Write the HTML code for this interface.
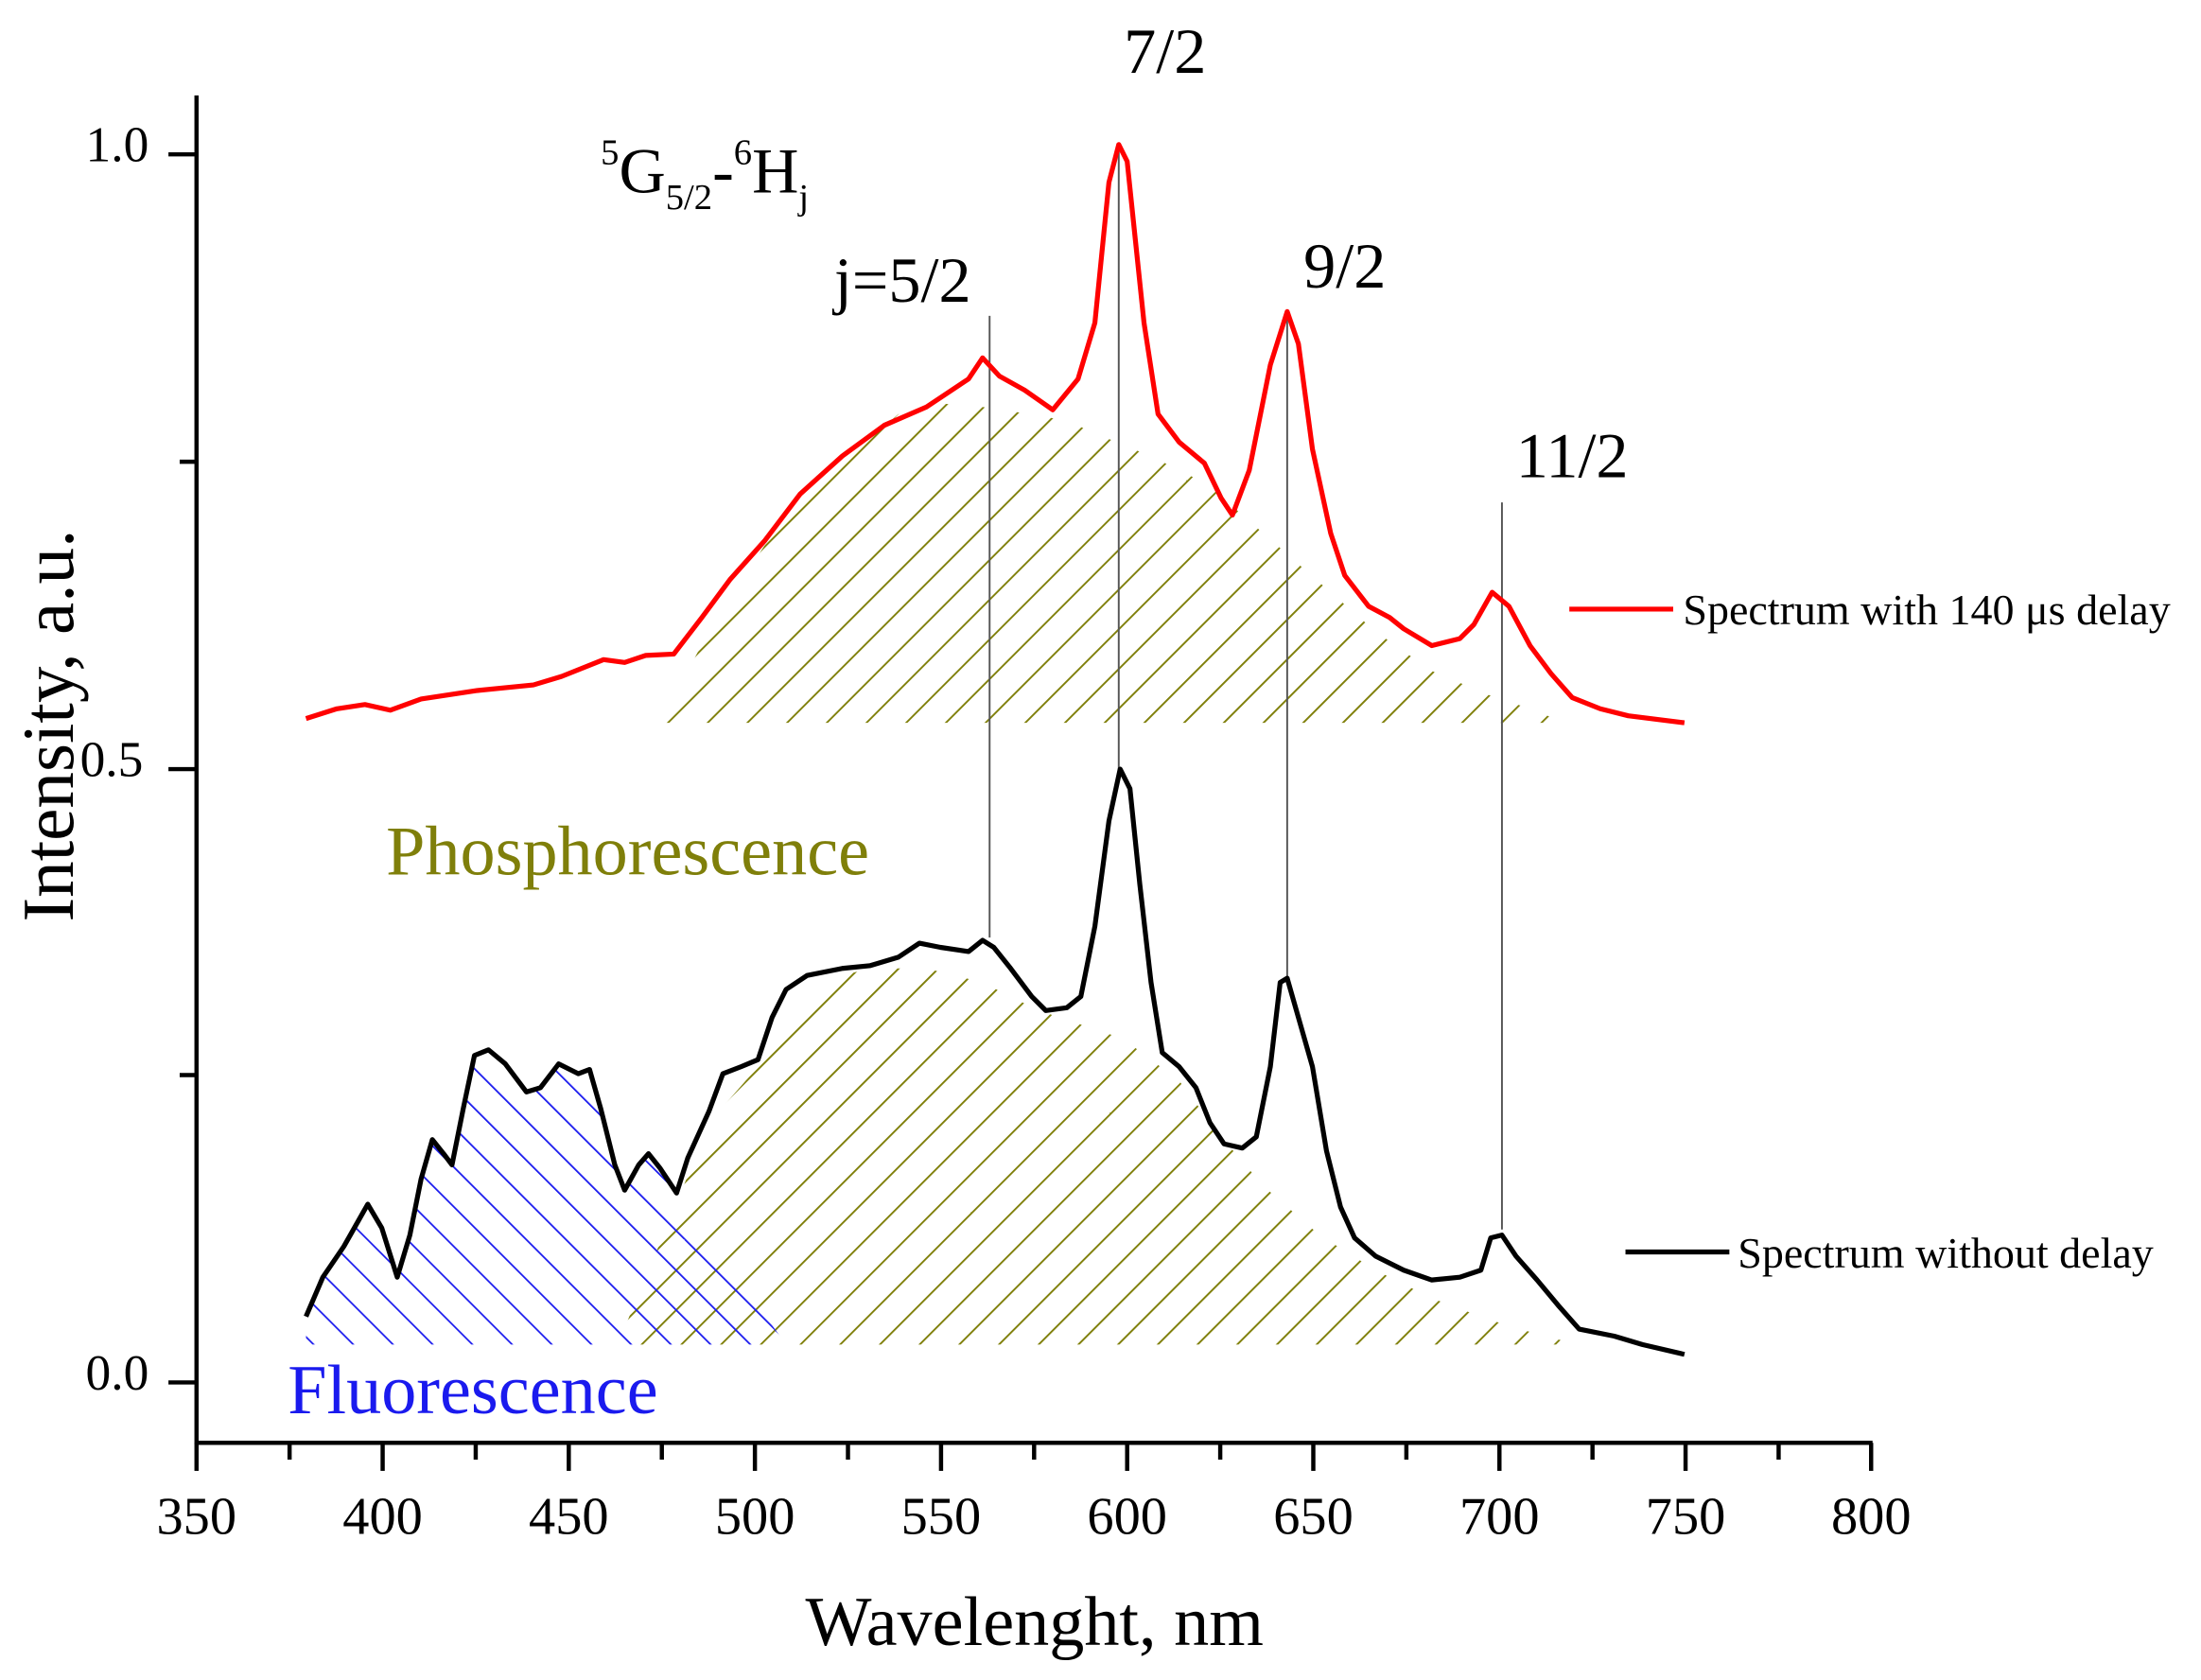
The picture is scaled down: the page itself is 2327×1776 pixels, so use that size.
<!DOCTYPE html>
<html><head><meta charset="utf-8"><style>
html,body{margin:0;padding:0;background:#fff}
svg{display:block}
text{font-family:"Liberation Serif",serif}
</style></head><body>
<svg width="2327" height="1776" viewBox="0 0 1568 1197" preserveAspectRatio="none" xmlns="http://www.w3.org/2000/svg">
<defs>
<pattern id="ol" patternUnits="userSpaceOnUse" width="20" height="20" patternTransform="rotate(45)">
<line x1="0" y1="0" x2="0" y2="20" stroke="#7f7f0a" stroke-width="2.6"/>
</pattern>
<pattern id="bl" patternUnits="userSpaceOnUse" width="20" height="20" patternTransform="rotate(-45)">
<line x1="0" y1="0" x2="0" y2="20" stroke="#1a1aee" stroke-width="2.4"/>
</pattern>
</defs>
<polygon fill="url(#ol)" points="470,515 505,450 560,365 640,295 665,287 700,290 740,296 760,300 800,317 820,325 860,345 900,380 940,415 980,450 1020,478 1060,495 1090,505 1115,515"/>
<polygon fill="url(#ol)" points="440,958 485,850 505,800 540,760 580,700 620,690 660,690 700,700 740,720 800,740 840,770 870,810 900,845 940,880 980,905 1020,925 1060,940 1100,952 1125,958"/>
<polygon fill="url(#bl)" points="218,958 218,938 230,910 245,888 262,858 272,875 283,910 292,880 300,840 308,812 316,822 322,830 330,790 338,752 348,748 360,758 375,778 385,775 398,758 412,765 420,762 428,790 438,830 445,848 455,830 462,822 470,832 482,850 560,958"/>
<g stroke="#555" stroke-width="1.3">
<line x1="705" y1="225" x2="705" y2="668"/>
<line x1="797" y1="108" x2="797" y2="548"/>
<line x1="917" y1="225" x2="917" y2="697"/>
<line x1="1070" y1="358" x2="1070" y2="876"/>
</g>
<polyline fill="none" stroke="#f00" stroke-width="3.5" stroke-linejoin="round" points="218,512 240,505 260,502 278,506 300,498 340,492 380,488 400,482 430,470 445,472 460,467 480,466 500,440 520,413 545,385 570,352 600,325 630,303 660,290 690,270 700,255 712,268 730,278 750,292 768,270 780,230 790,130 797,103 803,115 815,230 825,295 840,315 858,330 870,355 878,367 890,335 905,260 917,222 925,245 935,320 948,380 958,410 975,432 990,440 1000,448 1020,460 1040,455 1050,445 1063,422 1075,432 1090,460 1105,480 1120,497 1140,505 1160,510 1200,515"/>
<polyline fill="none" stroke="#000" stroke-width="3.5" stroke-linejoin="round" points="218,938 230,910 245,888 262,858 272,875 283,910 292,880 300,840 308,812 316,822 322,830 330,790 338,752 348,748 360,758 375,778 385,775 398,758 412,765 420,762 428,790 438,830 445,848 455,830 462,822 470,832 482,850 490,825 505,792 515,765 528,760 540,755 550,725 560,705 575,695 600,690 620,688 640,682 655,672 670,675 690,678 700,670 708,675 720,690 735,710 745,720 760,718 770,710 780,660 790,585 798,548 805,562 812,630 820,700 828,750 840,760 852,775 862,800 872,815 885,818 895,810 905,760 912,700 917,697 925,725 935,760 945,820 955,860 965,882 980,895 1000,905 1020,912 1040,910 1055,905 1062,882 1070,880 1080,895 1095,912 1110,930 1125,947 1150,952 1170,958 1200,965"/>
<g stroke="#000" stroke-width="3" fill="none">
<line x1="140" y1="68" x2="140" y2="1029"/>
<line x1="139" y1="1028" x2="1334" y2="1028"/>
<line x1="1333" y1="1028" x2="1333" y2="1048"/>
<line x1="140" y1="1028" x2="140" y2="1048"/>
<line x1="272.6" y1="1028" x2="272.6" y2="1048"/><line x1="405.2" y1="1028" x2="405.2" y2="1048"/><line x1="537.8" y1="1028" x2="537.8" y2="1048"/><line x1="670.4" y1="1028" x2="670.4" y2="1048"/><line x1="803" y1="1028" x2="803" y2="1048"/><line x1="935.6" y1="1028" x2="935.6" y2="1048"/><line x1="1068.2" y1="1028" x2="1068.2" y2="1048"/><line x1="1200.8" y1="1028" x2="1200.8" y2="1048"/>
<line x1="206.3" y1="1028" x2="206.3" y2="1040"/><line x1="338.9" y1="1028" x2="338.9" y2="1040"/><line x1="471.5" y1="1028" x2="471.5" y2="1040"/><line x1="604.1" y1="1028" x2="604.1" y2="1040"/><line x1="736.7" y1="1028" x2="736.7" y2="1040"/><line x1="869.3" y1="1028" x2="869.3" y2="1040"/><line x1="1001.9" y1="1028" x2="1001.9" y2="1040"/><line x1="1134.5" y1="1028" x2="1134.5" y2="1040"/><line x1="1267.1" y1="1028" x2="1267.1" y2="1040"/>
<line x1="120" y1="110" x2="140" y2="110"/><line x1="120" y1="548" x2="140" y2="548"/><line x1="120" y1="985" x2="140" y2="985"/>
<line x1="128" y1="329" x2="140" y2="329"/><line x1="128" y1="766" x2="140" y2="766"/>
</g>
<g font-size="38" text-anchor="middle">
<text x="140" y="1093">350</text><text x="272.6" y="1093">400</text><text x="405.2" y="1093">450</text><text x="537.8" y="1093">500</text><text x="670.4" y="1093">550</text><text x="803" y="1093">600</text><text x="935.6" y="1093">650</text><text x="1068.2" y="1093">700</text><text x="1200.8" y="1093">750</text><text x="1333" y="1093">800</text>
</g>
<g font-size="36" text-anchor="end">
<text x="106" y="115">1.0</text><text x="102" y="553">0.5</text><text x="106" y="990">0.0</text>
</g>
<text x="737" y="1172" font-size="50" text-anchor="middle">Wavelenght, nm</text>
<text transform="translate(52,517) rotate(-90)" font-size="52" text-anchor="middle">Intensity, a.u.</text>
<text x="830" y="52" font-size="46" text-anchor="middle">7/2</text>
<text x="958" y="205" font-size="46" text-anchor="middle">9/2</text>
<text x="1120" y="340" font-size="46" text-anchor="middle">11/2</text>
<text x="643" y="215" font-size="46" text-anchor="middle">j=5/2</text>
<text x="428" y="137" font-size="46"><tspan font-size="26" dy="-20">5</tspan><tspan dy="20">G</tspan><tspan font-size="26" dy="12">5/2</tspan><tspan dy="-12">-</tspan><tspan font-size="26" dy="-20">6</tspan><tspan dy="20">H</tspan><tspan font-size="26" dy="12">j</tspan></text>
<text x="275" y="623" font-size="50" fill="#7f7f0a">Phosphorescence</text>
<text x="205" y="1007" font-size="50" fill="#1a1aee">Fluorescence</text>
<line x1="1118" y1="434" x2="1192" y2="434" stroke="#f00" stroke-width="3.5"/>
<text x="1199" y="445" font-size="31">Spectrum with 140 μs delay</text>
<line x1="1158" y1="892" x2="1232" y2="892" stroke="#000" stroke-width="3.5"/>
<text x="1238" y="903" font-size="31">Spectrum without delay</text>
</svg>
</body></html>
